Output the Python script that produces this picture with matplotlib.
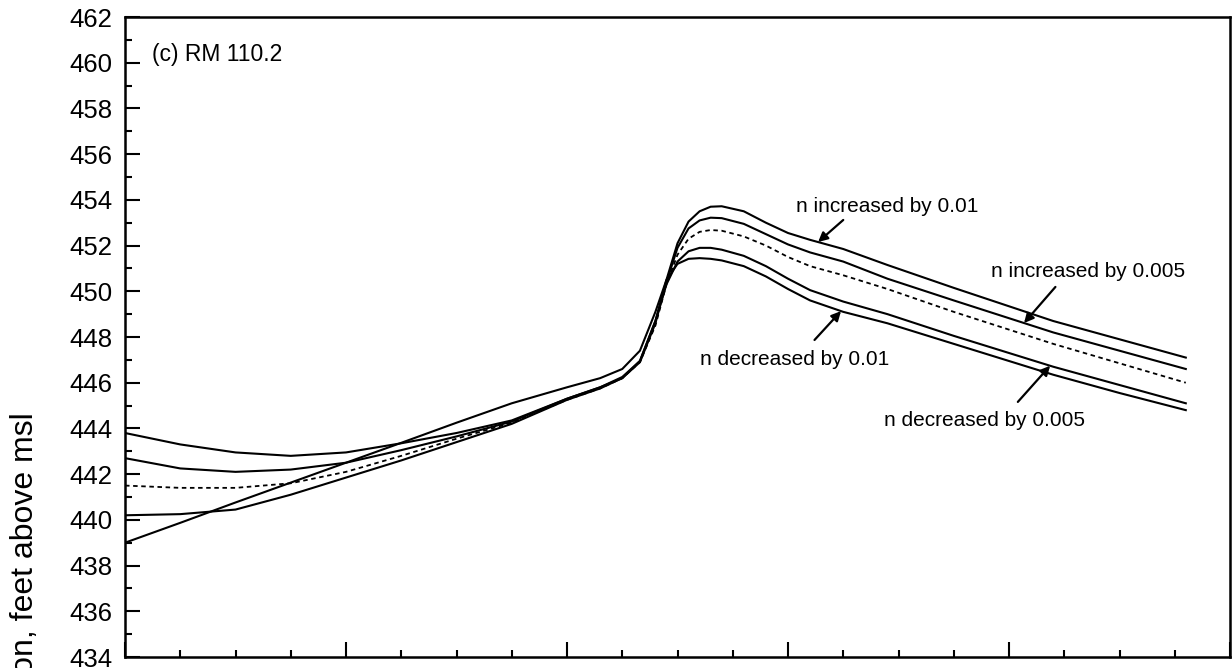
import numpy as np
import matplotlib.pyplot as plt
from matplotlib.ticker import MultipleLocator

plt.rcParams['font.family'] = ['Liberation Sans', 'DejaVu Sans']

# time axis (units of the original plot) and stage hydrographs at RM 110.2
x = [0, 0.25, 0.5, 0.75, 1.0, 1.25, 1.5, 1.75, 2.0, 2.15, 2.25, 2.33, 2.4, 2.45, 2.5,
     2.55, 2.6, 2.65, 2.7, 2.8, 2.9, 3.0, 3.1, 3.25, 3.45, 3.75, 4.2, 4.5, 4.8]

n_plus_010 = [443.8, 443.3, 442.95, 442.8, 442.95, 443.35, 443.8, 444.35, 445.3, 445.8,
              446.25, 446.95, 448.7, 450.5, 452.1, 453.05, 453.5, 453.7, 453.72, 453.5,
              453.0, 452.55, 452.25, 451.85, 451.15, 450.15, 448.7, 447.9, 447.1]
n_plus_005 = [442.7, 442.25, 442.1, 442.2, 442.5, 443.05, 443.65, 444.3, 445.3, 445.8,
              446.2, 446.9, 448.6, 450.4, 451.9, 452.75, 453.1, 453.22, 453.2, 452.95,
              452.5, 452.05, 451.7, 451.3, 450.55, 449.6, 448.2, 447.4, 446.6]
n_base = [441.5, 441.4, 441.4, 441.6, 442.1, 442.8, 443.55, 444.25, 445.25, 445.75,
          446.2, 446.9, 448.5, 450.3, 451.6, 452.3, 452.6, 452.68, 452.65, 452.4,
          452.0, 451.5, 451.1, 450.7, 450.1, 449.1, 447.7, 446.85, 446.0]
n_minus_005 = [440.2, 440.25, 440.45, 441.1, 441.85, 442.6, 443.4, 444.2, 445.25, 445.75,
               446.2, 446.95, 448.7, 450.3, 451.3, 451.75, 451.9, 451.9, 451.82, 451.55,
               451.1, 450.55, 450.05, 449.55, 449.0, 448.05, 446.7, 445.9, 445.1]
n_minus_010 = [439.0, 439.87, 440.76, 441.63, 442.5, 443.37, 444.25, 445.1, 445.8, 446.2,
               446.6, 447.4, 449.1, 450.5, 451.2, 451.42, 451.45, 451.42, 451.35, 451.1,
               450.65, 450.1, 449.6, 449.1, 448.6, 447.7, 446.35, 445.55, 444.8]

fig = plt.figure(figsize=(12.32, 6.68), dpi=100)
ax = fig.add_axes([125 / 1232, 11 / 668, 1105 / 1232, 640 / 668])

lw = 1.5
ax.plot(x, n_plus_010, color='black', lw=lw)
ax.plot(x, n_plus_005, color='black', lw=lw)
ax.plot(x, n_base, color='black', lw=1.3, linestyle=(0, (2.5, 2)))
ax.plot(x, n_minus_005, color='black', lw=lw)
ax.plot(x, n_minus_010, color='black', lw=lw)

ax.set_xlim(0, 5)
ax.set_ylim(434, 462)
ax.yaxis.set_major_locator(MultipleLocator(2))
ax.yaxis.set_minor_locator(MultipleLocator(1))
ax.xaxis.set_major_locator(MultipleLocator(1))
ax.xaxis.set_minor_locator(MultipleLocator(0.25))
ax.tick_params(which='both', direction='in', width=1.5, top=False, right=False)
ax.tick_params(which='major', length=11)
ax.tick_params(which='minor', length=5)
ax.tick_params(axis='y', labelsize=18.5, pad=9)
ax.tick_params(axis='x', labelbottom=False)
for s in ax.spines.values():
    s.set_linewidth(1.8)

fig.text(25 / 1232, 1 - 412 / 668, 'Elevation, feet above msl', rotation=90,
         ha='center', va='top', fontsize=23)

ax.text(0.122, 460.34, '(c) RM 110.2', fontsize=16.5, va='center', ha='left')

# labels with arrows pointing at each curve
arrow = dict(arrowstyle='-|>', color='black', lw=1.6, mutation_scale=14, shrinkA=0, shrinkB=0)
fs = 15


def label(text, tx, ty, tail, tip_x, series):
    ax.text(tx, ty, text, fontsize=fs, ha='center', va='center')
    ax.annotate('', xy=(tip_x, np.interp(tip_x, x, series)), xytext=tail, arrowprops=arrow)


label('n increased by 0.01', 3.45, 453.69, (3.25, 453.12), 3.136, n_plus_010)
label('n increased by 0.005', 4.36, 450.85, (4.21, 450.19), 4.068, n_plus_005)
label('n decreased by 0.01', 3.03, 447.0, (3.12, 447.87), 3.24, n_minus_010)
label('n decreased by 0.005', 3.89, 444.33, (4.04, 445.16), 4.186, n_minus_005)

fig.savefig('out.png', dpi=100)
